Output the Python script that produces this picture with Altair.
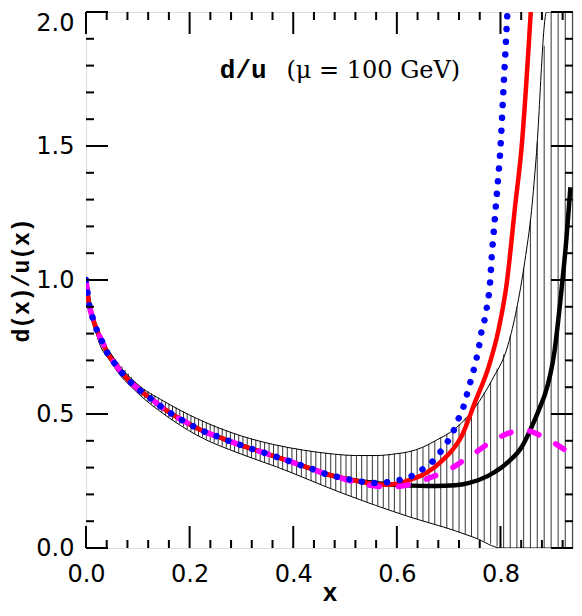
import altair as alt
import numpy as np
import pandas as pd

# ---- data ----
central_x = [0.0, 0.003, 0.0065, 0.013, 0.0205, 0.031, 0.0416, 0.0556, 0.0704, 0.0876, 0.1055,
             0.1247, 0.1438, 0.17, 0.20, 0.23, 0.2526, 0.275, 0.297, 0.3216, 0.3446, 0.3676,
             0.391, 0.414, 0.438, 0.46, 0.484]
central_y = [1.0, 0.952, 0.905, 0.858, 0.815, 0.771, 0.727, 0.688, 0.651, 0.616, 0.586,
             0.558, 0.529, 0.495, 0.462, 0.433, 0.417, 0.400, 0.385, 0.369, 0.355, 0.340,
             0.325, 0.309, 0.294, 0.278, 0.266]

blue_tail_x = [0.508, 0.532, 0.556, 0.58, 0.604, 0.628, 0.649, 0.668, 0.684, 0.698, 0.7095, 0.719,
               0.729, 0.735, 0.7415, 0.748, 0.754, 0.759, 0.763, 0.769, 0.7735, 0.7774, 0.780,
               0.783, 0.787, 0.791, 0.795, 0.799, 0.806, 0.8135]
blue_tail_y = [0.256, 0.247, 0.243, 0.245, 0.253, 0.268, 0.293, 0.321, 0.358, 0.397, 0.437, 0.482,
               0.529, 0.571, 0.616, 0.662, 0.709, 0.756, 0.803, 0.849, 0.896, 0.943, 0.991,
               1.085, 1.179, 1.274, 1.368, 1.464, 1.72, 2.0]

red_tail_x = [0.508, 0.532, 0.556, 0.58, 0.60, 0.623, 0.655, 0.687, 0.7256, 0.751, 0.777, 0.796,
              0.812, 0.828, 0.841, 0.8585]
red_tail_y = [0.256, 0.246, 0.239, 0.236, 0.240, 0.253, 0.278, 0.325, 0.42, 0.545, 0.675, 0.812,
              0.986, 1.271, 1.50, 2.0]

black_tail_x = [0.508, 0.547, 0.58, 0.6105, 0.674, 0.713, 0.738, 0.777, 0.815, 0.841, 0.863, 0.879,
                0.8853, 0.9045, 0.917, 0.927, 0.935]
black_tail_y = [0.256, 0.245, 0.238, 0.2346, 0.231, 0.234, 0.242, 0.270, 0.321, 0.377, 0.464, 0.539,
                0.57, 0.737, 0.949, 1.147, 1.346]

magenta_tail_x = [0.508, 0.532, 0.556, 0.58, 0.60, 0.623, 0.651, 0.678, 0.706, 0.728, 0.754, 0.777,
                  0.802, 0.828, 0.843, 0.857, 0.882, 0.908, 0.933, 0.94]
magenta_tail_y = [0.252, 0.240, 0.232, 0.228, 0.229, 0.236, 0.253, 0.273, 0.298, 0.326, 0.359, 0.390,
                  0.417, 0.436, 0.440, 0.436, 0.415, 0.387, 0.355, 0.346]

band_hi_x = [0.0, 0.02, 0.05, 0.1, 0.15, 0.214, 0.3, 0.36, 0.42, 0.48, 0.52, 0.56, 0.6, 0.623, 0.65,
             0.674, 0.713, 0.751, 0.783, 0.815, 0.831, 0.847, 0.86, 0.869, 0.889, 0.94]
band_hi_y = [1.0, 0.83, 0.72, 0.61, 0.548, 0.483, 0.418, 0.387, 0.365, 0.350, 0.345, 0.345, 0.352,
             0.359, 0.376, 0.400, 0.446, 0.525, 0.625, 0.76, 0.89, 1.07, 1.26, 1.46, 2.0, 2.0]

band_lo_x = [0.0, 0.02, 0.05, 0.1, 0.15, 0.214, 0.3, 0.3676, 0.4955, 0.623, 0.713, 0.751, 0.802, 0.94]
band_lo_y = [1.0, 0.80, 0.688, 0.578, 0.50, 0.421, 0.35, 0.303, 0.204, 0.117, 0.064, 0.038, 0.0, 0.0]

x_major = [0.0, 0.2, 0.4, 0.6, 0.8]
x_minor = [0.04, 0.08, 0.12, 0.16, 0.24, 0.28, 0.32, 0.36, 0.44, 0.48, 0.52, 0.56, 0.64, 0.68,
           0.72, 0.76, 0.84, 0.88, 0.92]
y_major = [0.0, 0.5, 1.0, 1.5, 2.0]
y_minor = [0.1, 0.2, 0.3, 0.4, 0.6, 0.7, 0.8, 0.9, 1.1, 1.2, 1.3, 1.4, 1.6, 1.7, 1.8, 1.9]

label_main = "d/u"
label_mu = "(μ = 100 GeV)"
label_pos_x = [0.2583, 0.3868]
label_pos_y = 1.754

# ---- styling / layout ----
W, H = 487, 536
XS = alt.Scale(domain=[0, 0.94], nice=False, zero=False)
YS = alt.Scale(domain=[0, 2.0], nice=False, zero=False)
MAJ, MIN = 22, 8

AX = alt.Axis(values=x_major, format=".1f", ticks=False, tickSize=0, domain=False, grid=False,
              labelFont="DejaVu Sans", labelFontSize=24, labelColor="black", labelPadding=14,
              labelFlush=False, labelOverlap=False,
              title="x", titleFont="Liberation Mono", titleFontSize=25, titleFontWeight="bold",
              titleColor="black", titleBaseline="alphabetic", titleY=52)
AY = alt.Axis(values=y_major, format=".1f", ticks=False, tickSize=0, domain=False, grid=False,
              labelFont="DejaVu Sans", labelFontSize=24, labelColor="black", labelPadding=12,
              labelFlush=False, labelOverlap=False,
              labelOffset={"condition": {"test": "datum.value == 2", "value": 11}, "value": 0},
              title="d(x)/u(x)", titleFont="Liberation Mono", titleFontSize=23,
              titleFontWeight="bold", titleColor="black", titleBaseline="alphabetic",
              titleAngle=270, titleX=-58)


def series(xs, ys):
    return pd.DataFrame({"x": xs, "y": ys})


def X(field):
    return alt.X(field, scale=XS, axis=AX)


def Y(field):
    return alt.Y(field, scale=YS, axis=AY)


# hatch rules of the band (drawing style of the shaded band)
hx = -0.61 + 0.61 * 1.009 ** np.arange(0, 200)
hx = hx[hx <= 0.94]
hatch = pd.DataFrame({
    "x": hx,
    "lo": np.interp(hx, band_lo_x, band_lo_y),
    "hi": np.minimum(np.interp(hx, band_hi_x, band_hi_y), 2.0),
})

hatch_layer = alt.Chart(hatch).mark_rule(color="black", strokeWidth=0.8, clip=True).encode(
    x=X("x:Q"), y=Y("lo:Q"), y2="hi:Q")

hi_line = alt.Chart(series(band_hi_x, band_hi_y)).mark_line(
    color="black", strokeWidth=1, interpolate="monotone", clip=True).encode(x=X("x:Q"), y=Y("y:Q"))
lo_line = alt.Chart(series(band_lo_x, band_lo_y)).mark_line(
    color="black", strokeWidth=1, interpolate="monotone", clip=True).encode(x=X("x:Q"), y=Y("y:Q"))


def curve(tx, ty, **kw):
    return alt.Chart(series(central_x + tx, central_y + ty)).mark_line(
        interpolate="monotone", clip=True, **kw).encode(x=X("x:Q"), y=Y("y:Q"))


black_c = curve(black_tail_x, black_tail_y, color="black", strokeWidth=4.5)
red_c = curve(red_tail_x, red_tail_y, color="#ff0000", strokeWidth=4.5)
mag_c = curve(magenta_tail_x, magenta_tail_y, color="#ff00ff", strokeWidth=5.5,
              strokeDash=[10, 19], strokeCap="round")
blue_c = curve(blue_tail_x, blue_tail_y, color="#0000ff", strokeWidth=6.5,
               strokeDash=[0.01, 12.7], strokeCap="round")


def xticks(vals, length):
    d = pd.DataFrame({"x": vals})
    bot = alt.Chart(d).mark_rule(color="black", strokeWidth=2).encode(
        x=X("x:Q"), y=alt.value(H), y2=alt.value(H - length))
    top = alt.Chart(d).mark_rule(color="black", strokeWidth=2).encode(
        x=X("x:Q"), y=alt.value(0), y2=alt.value(length))
    return [bot, top]


def yticks(vals, length):
    d = pd.DataFrame({"y": vals})
    left = alt.Chart(d).mark_rule(color="black", strokeWidth=2).encode(
        y=Y("y:Q"), x=alt.value(0), x2=alt.value(length))
    right = alt.Chart(d).mark_rule(color="black", strokeWidth=2).encode(
        y=Y("y:Q"), x=alt.value(W), x2=alt.value(W - length))
    return [left, right]


txt1 = alt.Chart(pd.DataFrame({"x": [label_pos_x[0]], "y": [label_pos_y], "t": [label_main]})).mark_text(
    font="Liberation Mono", fontSize=26, fontWeight="bold", align="left", baseline="alphabetic",
    color="black").encode(x=X("x:Q"), y=Y("y:Q"), text="t:N")
txt2 = alt.Chart(pd.DataFrame({"x": [label_pos_x[1]], "y": [label_pos_y], "t": [label_mu]})).mark_text(
    font="DejaVu Serif", fontSize=24, align="left", baseline="alphabetic",
    color="black").encode(x=X("x:Q"), y=Y("y:Q"), text="t:N")

layers = [hatch_layer, hi_line, lo_line, black_c, red_c, mag_c, blue_c, txt1, txt2]
layers += xticks(x_major, MAJ) + xticks(x_minor, MIN) + yticks(y_major, MAJ) + yticks(y_minor, MIN)

chart = alt.layer(*layers).properties(
    width=W, height=H,
    padding={"left": 78, "top": 4, "right": 1, "bottom": 60},
    autosize=alt.AutoSizeParams(type="none"),
).configure_view(stroke="black", strokeWidth=2.5).configure(background="white")

chart.save("out.html", embed_options={"renderer": "svg", "actions": False})
